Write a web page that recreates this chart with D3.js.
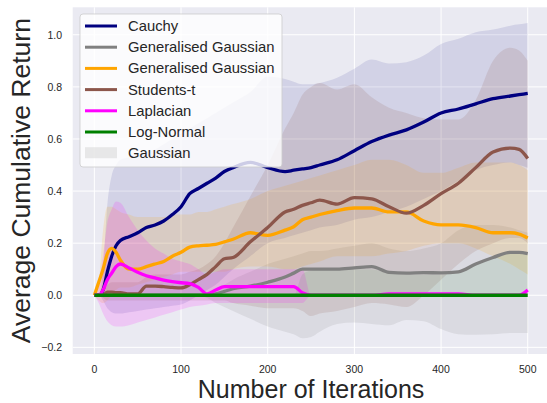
<!DOCTYPE html>
<html>
<head>
<meta charset="utf-8">
<script src="https://d3js.org/d3.v7.min.js"></script>
<style>
body { margin: 0; background: #fff; }
text { font-family: "Liberation Sans", Arial, sans-serif; fill: #262626; }
</style>
</head>
<body>
<div id="chart"></div>
<script>
// iteration grid the curves were read at
var iters = [0,5,10,15,20,25,30,40,50,60, 70,80,90,100,110,120,130,140,150,160,
  180,200,220,230,240,250,260,280,300,320, 340,360,380,400,420,440,460,480,490,500];

var cauchyMean = [0,0,0.02,0.09,0.15,0.19,0.21,0.225,0.24,0.26, 0.27,0.285,0.31,0.34,0.39,0.41,0.43,0.45,0.475,0.49,
  0.51,0.49,0.475,0.48,0.485,0.49,0.5,0.52,0.555,0.59, 0.615,0.635,0.665,0.7,0.715,0.735,0.755,0.765,0.77,0.775];
var cauchyLo = [0,0,-0.02,-0.05,-0.065,-0.07,-0.07,-0.065,-0.06,-0.055, -0.05,-0.045,-0.04,-0.035,-0.02,0,0.02,0.04,0.07,0.1,
  0.15,0.2,0.22,0.23,0.24,0.25,0.26,0.27,0.29,0.3, 0.32,0.34,0.37,0.4,0.44,0.48,0.5,0.51,0.5,0.49];
var cauchyHi = [0,0,0.1,0.35,0.46,0.5,0.52,0.53,0.54,0.55, 0.56,0.58,0.6,0.62,0.64,0.66,0.68,0.7,0.72,0.74,
  0.78,0.84,0.83,0.82,0.81,0.81,0.815,0.835,0.87,0.905, 0.89,0.895,0.92,0.965,0.985,1.01,1.02,1.035,1.04,1.045];

var grayMean = [0,0,0,0,0,0,0,0,0,0, 0,0,0,0,0,0,0,0.005,0.015,0.025,
  0.035,0.05,0.07,0.085,0.1,0.1,0.1,0.1,0.105,0.11, 0.088,0.085,0.087,0.086,0.09,0.12,0.145,0.165,0.165,0.16];
var grayLo = [0,0,0,0,0,0,0,0,0,0, 0,0,0,0,0,0,-0.01,-0.03,-0.045,-0.06,
  -0.09,-0.12,-0.14,-0.15,-0.165,-0.16,-0.14,-0.11,-0.105,-0.11, -0.115,-0.095,-0.1,-0.13,-0.15,-0.152,-0.15,-0.145,-0.145,-0.145];
var grayHi = [0,0,0,0,0,0,0,0,0,0, 0,0,0,0,0,0,0,0.02,0.04,0.06,
  0.09,0.12,0.14,0.15,0.16,0.17,0.17,0.18,0.19,0.2, 0.18,0.17,0.18,0.2,0.25,0.27,0.27,0.26,0.25,0.24];

var orangeMean = [0,0.05,0.1,0.16,0.18,0.165,0.135,0.1,0.1,0.11, 0.12,0.13,0.15,0.165,0.185,0.19,0.192,0.195,0.205,0.215,
  0.24,0.23,0.25,0.263,0.29,0.3,0.31,0.325,0.335,0.335, 0.32,0.32,0.285,0.27,0.27,0.26,0.24,0.24,0.235,0.22];
var orangeLo = [0,-0.02,-0.03,-0.02,0,0.02,0.03,0.03,0.04,0.05, 0.06,0.07,0.08,0.09,0.09,0.09,0.09,0.09,0.09,0.1,
  0.11,0.11,0.1,0.1,0.11,0.12,0.13,0.15,0.15,0.15, 0.16,0.17,0.19,0.2,0.2,0.18,0.15,0.12,0.1,0.08];
var orangeHi = [0,0.05,0.25,0.34,0.34,0.33,0.32,0.31,0.3,0.3, 0.3,0.3,0.31,0.31,0.31,0.32,0.32,0.33,0.34,0.35,
  0.37,0.4,0.42,0.43,0.44,0.45,0.46,0.48,0.5,0.52, 0.52,0.5,0.47,0.47,0.49,0.51,0.51,0.51,0.5,0.48];

var brownMean = [0,0,0,0.012,0.012,0.01,0.01,0.005,0.005,0.035, 0.035,0.033,0.03,0.028,0.04,0.06,0.08,0.11,0.14,0.145,
  0.205,0.26,0.32,0.33,0.345,0.355,0.365,0.35,0.375,0.37, 0.34,0.315,0.345,0.39,0.43,0.49,0.55,0.565,0.56,0.525];
var brownLo = [0,0,-0.01,-0.02,-0.02,-0.02,-0.02,-0.02,-0.02,-0.02, -0.02,-0.02,-0.02,-0.02,-0.02,-0.02,-0.02,-0.02,-0.02,-0.03,
  -0.04,-0.05,-0.05,-0.05,-0.06,-0.08,-0.07,-0.06,-0.045,-0.03, -0.035,-0.045,0,0.06,0.12,0.17,0.2,0.22,0.22,0.2];
var brownHi = [0,0,0.02,0.04,0.05,0.05,0.05,0.05,0.05,0.07, 0.08,0.08,0.08,0.08,0.09,0.1,0.12,0.15,0.2,0.26,
  0.38,0.5,0.64,0.7,0.77,0.8,0.815,0.79,0.81,0.76, 0.72,0.7,0.68,0.675,0.675,0.75,0.9,0.95,0.94,0.9];

var magentaMean = [0,0,0.02,0.06,0.085,0.11,0.12,0.105,0.088,0.075, 0.067,0.058,0.052,0.048,0.045,0.03,0.005,0.02,0.033,0.033,
  0.033,0.033,0.033,0.033,0.01,0,0,0,0,0, 0.005,0.005,0.005,0.005,0.005,0,0,0,0,0.02];
var magentaLo = [0,-0.03,-0.07,-0.1,-0.115,-0.12,-0.12,-0.115,-0.105,-0.095, -0.085,-0.075,-0.065,-0.055,-0.045,-0.04,-0.035,-0.03,-0.03,-0.03,
  -0.03,-0.03,-0.03,-0.03,-0.03,0,0,0,0,0, 0,0,0,0,0,0,0,0,0,0];
var magentaHi = [0,0.05,0.15,0.28,0.33,0.36,0.355,0.3,0.25,0.21, 0.18,0.16,0.14,0.13,0.12,0.1,0.08,0.09,0.1,0.1,
  0.1,0.1,0.1,0.1,0.1,0,0,0,0,0, 0,0,0,0,0,0,0,0,0,0.03];

var greenMean = [0,0,0,0,0,0,0,0,0,0, 0,0,0,0,0,0,0,0,0,0,
  0,0,0,0,0,0,0,0,0,0, 0,0,0,0,0,0,0,0,0,0];
var greenLo = greenMean;
var greenHi = [0,0,0,0,0,0,0,0,0,0, 0,0,0,0,0,0,0,0,0,0,
  0,0,0,0,0.08,0.095,0.1,0.1,0.1,0.1, 0.085,0.08,0.08,0.08,0.09,0.12,0.14,0.16,0.16,0.16];

var xTicks = [0, 100, 200, 300, 400, 500];
var yTicks = [-0.2, 0.0, 0.2, 0.4, 0.6, 0.8, 1.0];

var legendLabels = ["Cauchy", "Generalised Gaussian", "Generalised Gaussian", "Students-t", "Laplacian", "Log-Normal", "Gaussian"];

var series = [
  {color: "#000080", mean: cauchyMean, lo: cauchyLo, hi: cauchyHi, alpha: 0.1},
  {color: "#808080", mean: grayMean, lo: grayLo, hi: grayHi, alpha: 0.15},
  {color: "#FFA500", mean: orangeMean, lo: orangeLo, hi: orangeHi, alpha: 0.15},
  {color: "#8c564b", mean: brownMean, lo: brownLo, hi: brownHi, alpha: 0.15},
  {color: "#FF00FF", mean: magentaMean, lo: magentaLo, hi: magentaHi, alpha: 0.15},
  {color: "#008000", mean: greenMean, lo: greenLo, hi: greenHi, alpha: 0.08}
];

var W = 547, H = 403;
var plot = {left: 72.7, right: 549.4, top: 7.3, bottom: 354};

var svg = d3.select("#chart").append("svg")
  .attr("width", W).attr("height", H);

var x = d3.scaleLinear().domain([-25, 525]).range([plot.left, plot.right]);
var y = d3.scaleLinear().domain([-0.2255, 1.1055]).range([plot.bottom, plot.top]);

// background + grid (seaborn darkgrid)
svg.append("rect")
  .attr("x", plot.left).attr("y", plot.top)
  .attr("width", plot.right - plot.left).attr("height", plot.bottom - plot.top)
  .attr("fill", "#EAEAF2");

svg.append("g").selectAll("line").data(xTicks).join("line")
  .attr("x1", d => x(d)).attr("x2", d => x(d))
  .attr("y1", plot.top).attr("y2", plot.bottom)
  .attr("stroke", "#fff").attr("stroke-width", 1);
svg.append("g").selectAll("line").data(yTicks).join("line")
  .attr("y1", d => y(d)).attr("y2", d => y(d))
  .attr("x1", plot.left).attr("x2", plot.right)
  .attr("stroke", "#fff").attr("stroke-width", 1);

// tick labels
svg.append("g").selectAll("text").data(xTicks).join("text")
  .attr("x", d => x(d)).attr("y", 372.5)
  .attr("text-anchor", "middle")
  .style("font-size", "10.5px")
  .text(d => d);
svg.append("g").selectAll("text").data(yTicks).join("text")
  .attr("x", 62).attr("y", d => y(d) + 3.8)
  .attr("text-anchor", "end")
  .style("font-size", "10.5px")
  .text(d => d < 0 ? "\u2212" + Math.abs(d).toFixed(1) : d.toFixed(1));

// axis labels
svg.append("text")
  .attr("x", (plot.left + plot.right) / 2).attr("y", 397.5)
  .attr("text-anchor", "middle")
  .style("font-size", "25px")
  .text("Number of Iterations");
svg.append("text")
  .attr("transform", "translate(30," + ((plot.top + plot.bottom) / 2) + ") rotate(-90)")
  .attr("text-anchor", "middle")
  .style("font-size", "26.5px")
  .text("Average Cumulative Return");

var area = d3.area()
  .x((d, i) => x(iters[i]))
  .y0(d => y(d[0]))
  .y1(d => y(d[1]))
  .curve(d3.curveMonotoneX);

var line = d3.line()
  .x((d, i) => x(iters[i]))
  .y(d => y(d))
  .curve(d3.curveMonotoneX);

var clip = svg.append("defs").append("clipPath").attr("id", "clip")
  .append("rect")
  .attr("x", plot.left).attr("y", plot.top)
  .attr("width", plot.right - plot.left).attr("height", plot.bottom - plot.top);

var g = svg.append("g").attr("clip-path", "url(#clip)");

// shaded bands
g.selectAll(".band").data(series).join("path")
  .attr("class", "band")
  .attr("fill", d => d.color)
  .attr("fill-opacity", d => d.alpha)
  .attr("d", d => area(d.lo.map((v, i) => [v, d.hi[i]])));

// mean lines
g.selectAll(".line").data(series).join("path")
  .attr("class", "line")
  .attr("fill", "none")
  .attr("stroke", d => d.color)
  .attr("stroke-width", 3.3)
  .attr("stroke-linejoin", "round")
  .attr("d", d => line(d.mean));

// legend
var legend = svg.append("g");
legend.append("rect")
  .attr("x", 80).attr("y", 14).attr("width", 202).attr("height", 153)
  .attr("rx", 3)
  .attr("fill", "#fff").attr("fill-opacity", 0.8)
  .attr("stroke", "#cccccc").attr("stroke-opacity", 0.8);

var items = legend.selectAll(".legend-item").data(legendLabels).join("g")
  .attr("class", "legend-item")
  .attr("transform", (d, i) => "translate(0," + (26 + i * 21.2) + ")");

items.each(function(d, i) {
  var it = d3.select(this);
  if (i < series.length) {
    it.append("line")
      .attr("x1", 85).attr("x2", 117)
      .attr("stroke", series[i].color).attr("stroke-width", 3);
  } else {
    it.append("rect")
      .attr("x", 85).attr("y", -6).attr("width", 32).attr("height", 11)
      .attr("fill", "#d3d3d3").attr("fill-opacity", 0.5);
  }
  it.append("text")
    .attr("x", 128).attr("y", 5)
    .style("font-size", "14.8px")
    .text(d);
});
</script>
</body>
</html>
